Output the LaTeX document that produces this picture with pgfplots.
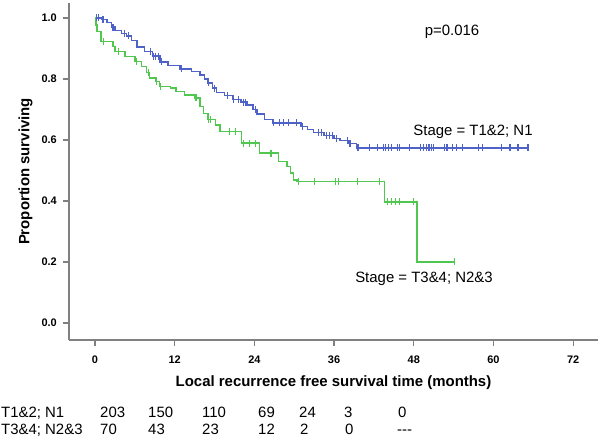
\documentclass[border=0pt]{standalone}
\usepackage{fontspec}
\setmainfont{Liberation Sans}
\usepackage{pgfplots}
\pgfplotsset{compat=1.18}
\definecolor{kmblue}{RGB}{78,98,200}
\definecolor{kmgreen}{RGB}{80,200,80}
\definecolor{axgray}{RGB}{128,128,128}
\begin{document}
\begin{tikzpicture}[x=1bp,y=1bp]
\useasboundingbox (0,0) rectangle (600,443);
\begin{axis}[
  at={(69bp,103bp)}, anchor=south west,
  scale only axis, width=529bp, height=337bp,
  xmin=-3.92, xmax=75.75, ymin=-0.0557, ymax=1.049,
  axis x line*=bottom, axis y line*=left,
  axis line style={-, axgray, line width=1.6bp},
  xtick={0,12,24,36,48,60,72}, ytick={0,0.2,0.4,0.6,0.8,1.0},
  xticklabels={0,12,24,36,48,60,72},
  yticklabels={,,,,,},
  tick style={axgray, line width=1.2bp}, tick align=outside, major tick length=6bp,
  ticklabel style={font=\fontsize{11}{13}\selectfont\bfseries},
  x tick label style={anchor=center, at={(axis cs:\tick,-0.0557)}, yshift=-14bp},
  xlabel={Local recurrence free survival time (months)},
  ylabel={Proportion surviving},
  label style={font=\fontsize{15}{18}\selectfont\bfseries},
  xlabel style={at={(axis description cs:0.5,-0.128)}, anchor=center},
  ylabel style={at={(axis description cs:-0.082,0.5)}, anchor=center},
]
\addplot[const plot, draw=kmblue, line width=1.3bp] coordinates {
(0,1.0) (1.0,0.994) (1.8,0.985) (2.5,0.970) (3.0,0.958) (4.0,0.948) (4.7,0.941)
(5.5,0.925) (6.3,0.905) (7.5,0.890) (8.7,0.875) (9.8,0.856) (11.0,0.845) (12.8,0.833)
(14.5,0.825) (15.8,0.813) (16.5,0.800) (17.0,0.787) (17.7,0.770) (18.3,0.756) (19.5,0.745)
(20.8,0.733) (22.0,0.724) (22.9,0.715) (23.8,0.700) (24.4,0.685) (25.5,0.668) (26.8,0.656)
(31.0,0.645) (32.0,0.635) (32.9,0.624) (34.5,0.614) (36.0,0.605) (36.9,0.598) (38.1,0.588)
(39.4,0.574) (65.2,0.574)};
\addplot[only marks, mark=|, mark size=3.5bp, kmblue, mark options={line width=1.1bp}] coordinates {
(0.2,1.0) (0.5,1.0) (1.2,0.994) (2.7,0.970) (4.5,0.948) (5.0,0.941) (8.3,0.890) (8.8,0.875)
(9.1,0.875) (9.5,0.875) (10.0,0.856) (13.0,0.833) (17.1,0.787) (18.0,0.770) (20.0,0.745)
(20.9,0.733) (21.6,0.733) (22.3,0.724) (22.6,0.724) (24.1,0.700) (26.9,0.656) (27.8,0.656)
(28.4,0.656) (29.2,0.656) (30.4,0.656) (31.3,0.645) (33.6,0.624) (34.1,0.624) (34.8,0.614)
(35.3,0.614) (35.8,0.614) (36.3,0.605) (38.0,0.598) (38.4,0.588) (39.6,0.574) (41.4,0.574)
(42.6,0.574) (43.4,0.574) (43.8,0.574) (44.2,0.574) (44.6,0.574) (45.5,0.574) (45.9,0.574)
(47.4,0.574) (49.0,0.574) (49.5,0.574) (49.9,0.574) (50.3,0.574) (50.7,0.574) (51.0,0.574)
(52.6,0.574) (53.0,0.574) (53.9,0.574) (54.5,0.574) (55.3,0.574) (57.7,0.574) (58.3,0.574)
(61.2,0.574) (62.5,0.574) (63.7,0.574) (65.2,0.574)};
\addplot[const plot, draw=kmgreen, line width=1.3bp] coordinates {
(0,1.0) (0.1,0.977) (0.3,0.955) (0.9,0.922) (2.7,0.906) (3.0,0.889) (4.5,0.873) (6.0,0.857)
(7.0,0.840) (7.7,0.820) (8.2,0.803) (9.2,0.791) (9.7,0.775) (11.4,0.770) (12.2,0.758)
(13.5,0.747) (15.0,0.738) (15.8,0.709) (16.3,0.687) (17.0,0.666) (18.1,0.649) (18.8,0.627)
(22.1,0.590) (24.8,0.557) (27.6,0.529) (28.9,0.513) (29.4,0.492) (29.9,0.469) (30.4,0.463)
(43.6,0.397) (48.5,0.2) (54.2,0.2)};
\addplot[only marks, mark=|, mark size=3.5bp, kmgreen, mark options={line width=1.1bp}] coordinates {
(0.2,0.977) (1.3,0.922) (3.5,0.889) (6.2,0.857) (8.0,0.820) (9.3,0.791) (9.8,0.775)
(15.2,0.738) (17.1,0.666) (17.4,0.666) (20.3,0.627) (21.1,0.627) (22.4,0.590) (23.2,0.590)
(24.2,0.590) (26.5,0.557) (30.6,0.463) (33.1,0.463) (36.2,0.463) (36.6,0.463) (39.5,0.463)
(42.9,0.463) (44.1,0.397) (44.7,0.397) (45.3,0.397) (45.9,0.397) (48.0,0.397) (54.2,0.2)};
\end{axis}
\begin{scope}[every node/.style={font=\fontsize{11}{13}\selectfont\bfseries, inner sep=0pt, anchor=east}]
\node at (57,120.0) {0.0};
\node at (57,181.0) {0.2};
\node at (57,242.0) {0.4};
\node at (57,303.0) {0.6};
\node at (57,364.0) {0.8};
\node at (57,425.1) {1.0};
\end{scope}
\begin{scope}[every node/.style={font=\fontsize{15}{18}\selectfont, inner sep=0pt}]
\node[anchor=center] at (452,411) {p=0.016};
\node[anchor=center] at (473,311) {Stage = T1\&2; N1};
\node[anchor=center] at (424,164) {Stage = T3\&4; N2\&3};
\node[anchor=base west] at (1,25.5) {T1\&2; N1};
\node[anchor=base west] at (100,25.5) {203};
\node[anchor=base west] at (148,25.5) {150};
\node[anchor=base west] at (202,25.5) {110};
\node[anchor=base west] at (258,25.5) {69};
\node[anchor=base west] at (299,25.5) {24};
\node[anchor=base west] at (344,25.5) {3};
\node[anchor=base west] at (398,25.5) {0};
\node[anchor=base west] at (1,8.5) {T3\&4; N2\&3};
\node[anchor=base west] at (100,8.5) {70};
\node[anchor=base west] at (148,8.5) {43};
\node[anchor=base west] at (202,8.5) {23};
\node[anchor=base west] at (258,8.5) {12};
\node[anchor=base west] at (300,8.5) {2};
\node[anchor=base west] at (345,8.5) {0};
\node[anchor=base west] at (397,8.5) {-{}-{}-};
\end{scope}
\end{tikzpicture}
\end{document}
